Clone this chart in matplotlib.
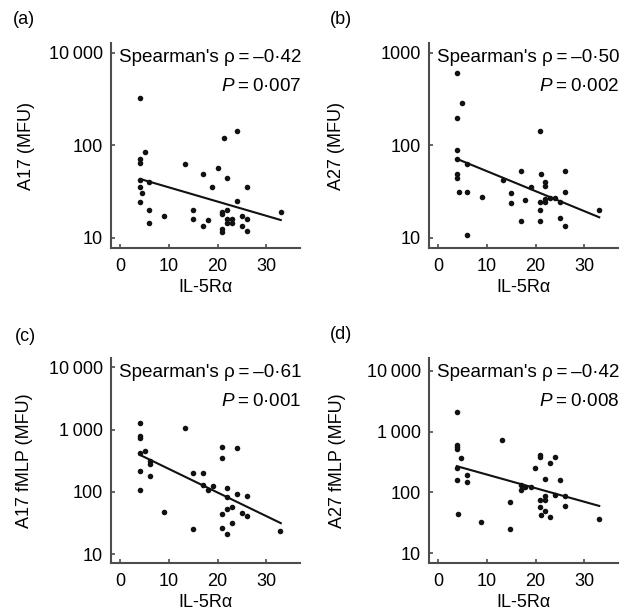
import numpy as np
import matplotlib.pyplot as plt

plt.rcParams['font.family'] = ['Liberation Sans', 'DejaVu Sans']
plt.rcParams['font.size'] = 13
plt.rcParams['mathtext.fontset'] = 'custom'
plt.rcParams['mathtext.it'] = 'Liberation Sans:italic'
plt.rcParams['mathtext.rm'] = 'Liberation Sans'

# (a) A17
a_x = [4.1, 5.0, 4.1, 4.1, 4.1, 5.9, 4.1, 4.4, 4.1, 5.9, 5.9, 9.0, 13.3, 14.9, 14.9,
       16.9, 16.9, 18.0, 18.9, 20.0, 20.9, 20.9, 20.9, 20.9, 21.3, 22.0, 22.0, 22.0,
       22.0, 23.0, 23.0, 24.0, 24.0, 25.0, 25.0, 26.0, 26.0, 26.0, 33.0]
a_y = [326, 85, 70, 64, 42, 40, 35.5, 30, 24.5, 20, 14.4, 17.1, 62, 20, 16,
       49, 13.5, 15.4, 35, 56, 19, 18, 12.5, 11.6, 119, 44, 20, 16,
       14.5, 16, 14.5, 142, 24.7, 17, 13.5, 35, 16, 11.8, 19]
a_fit_x = [4.1, 33.0]
a_fit_y = [43, 15.5]

# (b) A27
b_x = [3.8, 4.8, 3.8, 3.8, 3.8, 3.8, 3.8, 4.2, 5.8, 5.8, 5.8, 8.9, 13.2, 15.0, 15.0,
       16.9, 16.9, 17.9, 19.0, 21.0, 21.2, 21.0, 21.0, 21.0, 22.0, 22.0, 22.0, 22.0,
       23.0, 24.0, 25.0, 25.0, 26.0, 26.0, 26.0, 33.1]
b_y = [597, 286, 197, 88, 71, 49, 44, 31, 63, 31, 10.7, 27.4, 42, 30, 23.6,
       53, 15.3, 25.4, 35, 142, 49, 24.5, 20, 15.3, 39.5, 36.6, 26.3, 24,
       27, 27, 24.5, 16.2, 53, 31, 13.5, 20]
b_fit_x = [3.8, 33.1]
b_fit_y = [71, 16.6]

# (c) A17 fMLP
c_x = [4.0, 4.0, 4.0, 5.1, 4.0, 6.0, 6.0, 4.0, 6.0, 4.0, 9.0, 13.3, 14.9, 14.9,
       17.0, 17.0, 18.0, 19.0, 20.9, 20.9, 20.9, 20.9, 22.0, 22.0, 22.0, 22.0,
       23.0, 23.0, 24.0, 24.0, 25.0, 26.0, 26.0, 32.9]
c_y = [1280, 789, 733, 456, 419, 318, 285, 219, 182, 108, 47.6, 1075, 203, 25,
       203, 127, 109, 124, 530, 351, 43.5, 26, 116, 84, 53, 21.5,
       57, 31.6, 91.5, 510, 46, 87, 41, 23.9]
c_fit_x = [4.0, 33.0]
c_fit_y = [393, 31.6]

# (d) A27 fMLP
d_x = [3.8, 3.8, 3.8, 3.8, 4.7, 3.8, 5.8, 5.8, 3.8, 4.1, 8.8, 13.1, 14.8, 14.8,
       16.9, 16.9, 17.9, 19.0, 19.9, 21.0, 21.0, 21.0, 21.0, 21.2, 21.9, 21.9,
       21.9, 21.9, 23.0, 23.0, 24.0, 24.0, 25.1, 26.0, 26.0, 33.1]
d_y = [2060, 601, 550, 509, 371, 256, 191, 148, 162, 43.9, 32.6, 728, 70.6, 25.2,
       131, 109, 123, 124, 256, 410, 376, 75, 58, 42.8, 164, 89,
       76, 50, 306, 40, 385, 91, 160, 86, 61, 36.6]
d_fit_x = [3.8, 33.1]
d_fit_y = [270, 60]

panel_tags = ['(a)', '(b)', '(c)', '(d)']
y_labels = ['A17 (MFU)', 'A27 (MFU)', 'A17 fMLP (MFU)', 'A27 fMLP (MFU)']
rho_text = ['\u20130\u00b742', '\u20130\u00b750', '\u20130\u00b761', '\u20130\u00b742']
p_text = ['0\u00b7007', '0\u00b7002', '0\u00b7001', '0\u00b7008']
x_ticks = [0, 10, 20, 30]
y_ticks = [[10, 100, 1000], [10, 100, 1000],
           [10, 100, 1000, 10000], [10, 100, 1000, 10000]]
y_ticklabels = [['10', '100', '10\u2009000'], ['10', '100', '1000'],
                ['10', '100', '1\u2009000', '10\u2009000'],
                ['10', '100', '1\u2009000', '10\u2009000']]
y_lims = [(7.67, 1260), (7.67, 1260), (7.17, 13900), (6.85, 16000)]

xs = [a_x, b_x, c_x, d_x]
ys = [a_y, b_y, c_y, d_y]
fit_xs = [a_fit_x, b_fit_x, c_fit_x, d_fit_x]
fit_ys = [a_fit_y, b_fit_y, c_fit_y, d_fit_y]

fig = plt.figure(figsize=(6.28, 6.15), dpi=100)

W, H = 628.0, 615.0
boxes = [(110.7, 248.3), (428.7, 248.3), (110.7, 563.3), (428.7, 563.3)]
ylab_x = [-0.40, -0.44, -0.41, -0.435]
tag_pos = [(13, 24), (330, 24), (15, 341), (330, 339)]
spine_col = '#4d4d4d'

for i in range(4):
    left, bottom = boxes[i]
    ax = fig.add_axes([left / W, 1 - bottom / H, 189.5 / W, 205 / H])
    ax.scatter(xs[i], ys[i], s=16, color='#111111', linewidths=0, zorder=3)
    ax.plot(fit_xs[i], fit_ys[i], color='#111111', lw=1.5, zorder=2)
    ax.set_yscale('log')
    ax.set_xlim(-2, 37)
    ax.set_ylim(*y_lims[i])
    ax.set_xticks(x_ticks)
    ax.set_yticks(y_ticks[i])
    ax.set_yticklabels(y_ticklabels[i])
    ax.yaxis.set_minor_locator(plt.NullLocator())
    for s in ['top', 'right']:
        ax.spines[s].set_visible(False)
    for s in ['left', 'bottom']:
        ax.spines[s].set_linewidth(1.5)
        ax.spines[s].set_color(spine_col)
    ax.tick_params(direction='in', length=3, width=1.2, color=spine_col,
                   labelsize=13, pad=5.5)
    ax.tick_params(axis='x', pad=7)
    ax.set_ylabel(y_labels[i], fontsize=13)
    ax.yaxis.set_label_coords(ylab_x[i], 0.5)
    ax.set_xlabel('IL-5R\u03b1', fontsize=13)
    ax.xaxis.set_label_coords(0.5, -0.193)
    ax.xaxis.label.set_va('center')
    ax.text(1.009, 0.907, "Spearman's \u03c1\u2009=\u2009" + rho_text[i],
            transform=ax.transAxes, ha='right', va='baseline', fontsize=13.6)
    ax.text(1.009, 0.767, '$P$\u2009=\u2009' + p_text[i],
            transform=ax.transAxes, ha='right', va='baseline', fontsize=13.6)
    tx, ty = tag_pos[i]
    fig.text(tx / W, 1 - ty / H, panel_tags[i], fontsize=13, va='baseline')

fig.savefig('out.png', dpi=100)
